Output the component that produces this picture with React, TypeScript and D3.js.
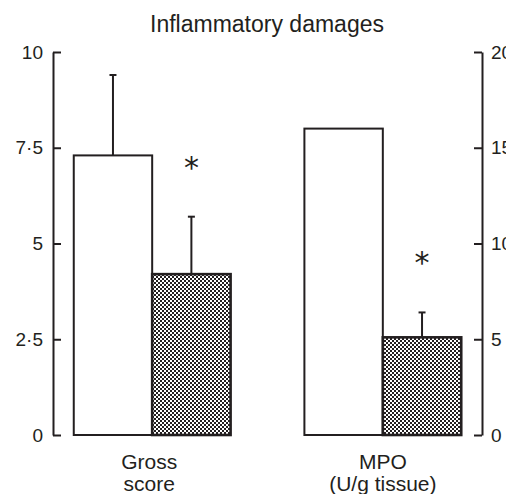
import * as React from "react";
import * as d3 from "d3";

const title = "Inflammatory damages";
const categories = ["Gross score", "MPO"];
const categoryLines = [
	["Gross", "score"],
	["MPO", "(U/g tissue)"],
];
const series = ["Control", "Treated"];
// group 0 on the left axis (score), group 1 on the right axis (U/g tissue)
const controlMeans = [7.3, 16.0];
const controlErrors: (number | null)[] = [2.1, null];
const treatedMeans = [4.2, 5.1];
const treatedErrors: (number | null)[] = [1.5, 1.3];
const significant = [true, true];
const leftTicks = [0, 2.5, 5, 7.5, 10];
const rightTicks = [0, 5, 10, 15, 20];

const width = 506;
const height = 494;
const ink = "#231f20";
const font = "'Liberation Sans', Arial, sans-serif";

function fmt(v: number) {
	return String(v).replace(".", "\u00b7");
}

export default function App() {
	const axisX0 = 53;
	const axisX1 = 482;
	const yTop = 52;
	const yBottom = 435;

	const yLeft = d3.scaleLinear([0, 10], [yBottom, yTop]);
	const yRight = d3.scaleLinear([0, 20], [yBottom, yTop]);
	const scales = [yLeft, yRight];

	const xGroup = d3
		.scaleBand<string>()
		.domain(categories)
		.range([axisX0, axisX1])
		.paddingInner(0.32)
		.paddingOuter(0.09);
	const xSeries = d3
		.scaleBand<string>()
		.domain(series)
		.range([0, xGroup.bandwidth()])
		.padding(0);

	const gLeftRef = React.useRef<SVGGElement>(null);
	const gRightRef = React.useRef<SVGGElement>(null);

	React.useEffect(() => {
		const styleAxis = (g: d3.Selection<SVGGElement, unknown, null, undefined>) => {
			g.attr("font-size", 19).attr("font-family", font);
			g.selectAll("path, line").attr("stroke", ink).attr("stroke-width", 2);
			g.selectAll("text").attr("fill", ink);
		};
		d3.select(gLeftRef.current!)
			.call(
				d3
					.axisLeft(yLeft)
					.tickValues(leftTicks)
					.tickFormat((d) => fmt(d as number))
					.tickSizeInner(-8)
					.tickSizeOuter(0)
					.tickPadding(10)
			)
			.call(styleAxis);
		d3.select(gRightRef.current!)
			.call(
				d3
					.axisRight(yRight)
					.tickValues(rightTicks)
					.tickFormat((d) => fmt(d as number))
					.tickSizeInner(-8)
					.tickSizeOuter(0)
					.tickPadding(9)
			)
			.call(styleAxis);
	}, []);

	const bars: JSX.Element[] = [];
	categories.forEach((cat, i) => {
		const y = scales[i];
		const gx = xGroup(cat)!;
		const bw = xSeries.bandwidth();
		const rows = [
			{ s: series[0], mean: controlMeans[i], err: controlErrors[i] },
			{ s: series[1], mean: treatedMeans[i], err: treatedErrors[i] },
		];
		rows.forEach((r, j) => {
			const x = gx + xSeries(r.s)!;
			const cx = x + bw / 2;
			if (r.err != null) {
				const ye = y(r.mean + r.err);
				bars.push(
					<g key={`${cat}-${r.s}-err`} stroke={ink} strokeWidth={2}>
						<line x1={cx} x2={cx} y1={y(r.mean)} y2={ye} />
						<line x1={cx - 3.5} x2={cx + 3.5} y1={ye} y2={ye} />
					</g>
				);
			}
			bars.push(
				<rect
					key={`${cat}-${r.s}`}
					x={x}
					y={y(r.mean)}
					width={bw}
					height={y(0) - y(r.mean)}
					fill={j === 0 ? "#fff" : "url(#checker)"}
					stroke={ink}
					strokeWidth={j === 0 ? 2 : 2.6}
				/>
			);
			if (j === 1 && significant[i]) {
				const top = y(r.mean + (r.err ?? 0));
				bars.push(
					<text
						key={`${cat}-star`}
						x={cx}
						y={top - 39}
						textAnchor="middle"
						fontFamily="'DejaVu Sans', sans-serif"
						fontSize={30}
						fill={ink}
					>
						*
					</text>
				);
			}
		});
	});

	return (
		<svg
			width={width}
			height={height}
			style={{ position: "absolute", left: 0, top: 0, background: "#fff" }}
			fontFamily={font}
		>
			<defs>
				<pattern id="checker" width={4} height={4} patternUnits="userSpaceOnUse">
					<rect width={4} height={4} fill="#fff" />
					<rect x={0} y={0} width={2} height={2} fill={ink} />
					<rect x={2} y={2} width={2} height={2} fill={ink} />
				</pattern>
			</defs>
			<text x={267} y={32} textAnchor="middle" fontSize={23} fill={ink}>
				{title}
			</text>
			{bars}
			<g ref={gLeftRef} transform={`translate(${axisX0},0)`} />
			<g ref={gRightRef} transform={`translate(${axisX1},0)`} />
			{categories.map((cat, i) => {
				const cx = xGroup(cat)! + xGroup.bandwidth() / 2;
				return (
					<text key={cat} textAnchor="middle" fontSize={21} fill={ink}>
						{categoryLines[i].map((line, k) => (
							<tspan key={k} x={cx - (i === 0 ? 3 : 0)} y={469 + k * 22}>
								{line}
							</tspan>
						))}
					</text>
				);
			})}
		</svg>
	);
}
